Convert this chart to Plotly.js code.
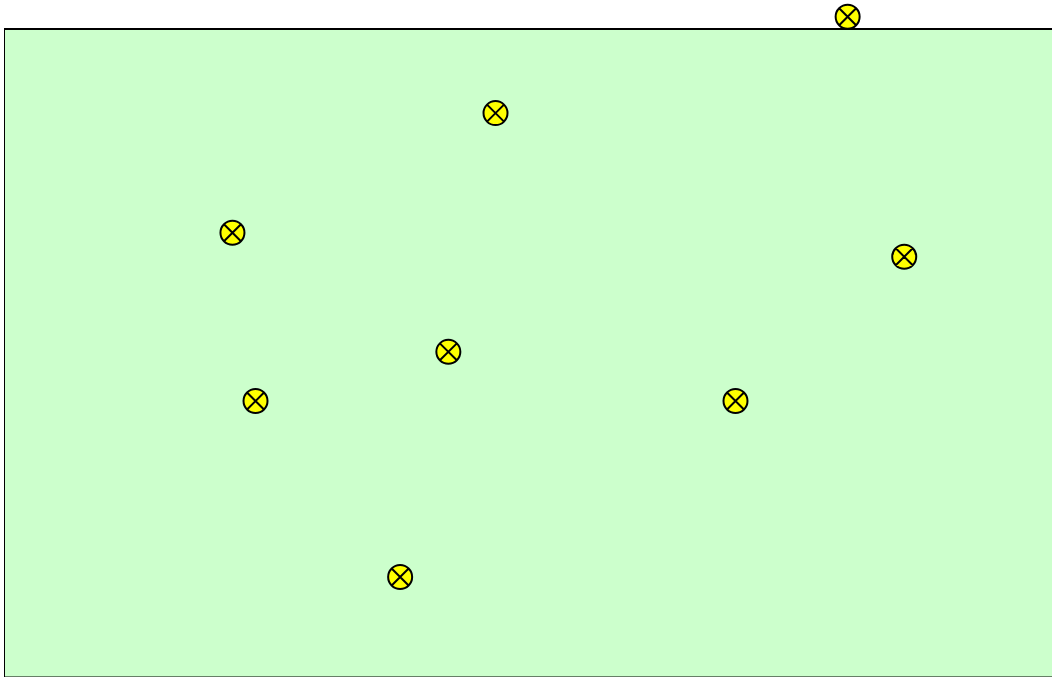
<!DOCTYPE html>
<html>
<head>
<meta charset="utf-8">
<script src="https://cdn.plot.ly/plotly-3.0.1.min.js"></script>
<style>html,body{margin:0;padding:0;background:#fff;}#chart{width:1052px;height:677px;}</style>
</head>
<body>
<div id="chart"></div>
<script>
const xValues = [80.5, 46.9, 21.8, 85.9, 42.4, 24.0, 69.8, 37.8];
const yValues = [101.9, 87.0, 68.5, 64.8, 50.1, 42.5, 42.5, 15.3];
const xRange = [0, 100];
const yRange = [-0.155, 104.48];
const panelBottom = -0.23;
const panelTop = 100;

const trace = {
  x: xValues,
  y: yValues,
  type: 'scatter',
  mode: 'markers',
  cliponaxis: false,
  marker: {
    symbol: 'circle-x',
    size: 24,
    color: '#ffff00',
    line: {color: '#000000', width: 2}
  },
  hoverinfo: 'none'
};

const layout = {
  width: 1052,
  height: 677,
  margin: {l: 4, r: 0, t: 0, b: 0, pad: 0},
  paper_bgcolor: '#ffffff',
  plot_bgcolor: 'rgba(0,0,0,0)',
  showlegend: false,
  xaxis: {
    range: xRange,
    showline: false,
    showgrid: false,
    zeroline: false,
    showticklabels: false,
    ticks: ''
  },
  yaxis: {
    range: yRange,
    showline: false,
    showgrid: false,
    zeroline: false,
    showticklabels: false,
    ticks: ''
  },
  shapes: [
    {type: 'rect', layer: 'below', xref: 'x', yref: 'y', x0: 0, x1: 110, y0: panelBottom, y1: panelTop,
     fillcolor: '#ccffcc', line: {color: '#000000', width: 2}}
  ]
};

Plotly.newPlot('chart', [trace], layout, {displayModeBar: false, staticPlot: true});
</script>
</body>
</html>
